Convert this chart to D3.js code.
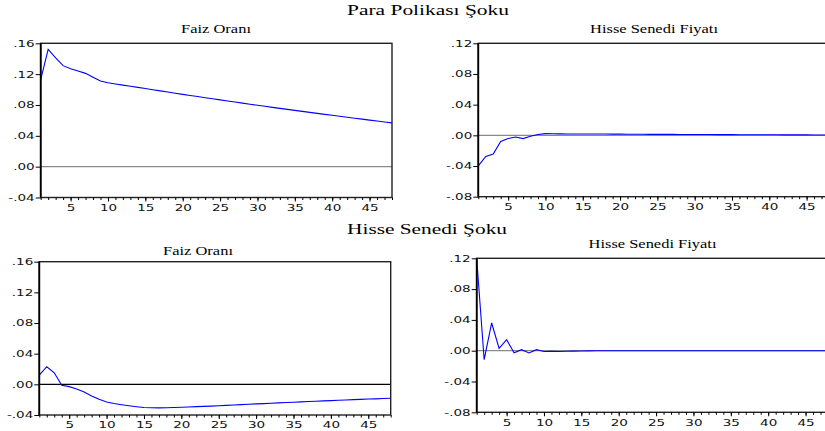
<!DOCTYPE html>
<html><head><meta charset="utf-8">
<script src="https://cdn.jsdelivr.net/npm/d3@7"></script>
<style>body{margin:0;background:#fff} svg{display:block}</style>
</head><body><svg id="c" width="825" height="431"></svg>
<script>
const periods = d3.range(1, 49);
const xTickValues = [5, 10, 15, 20, 25, 30, 35, 40, 45];
const faizTicks = [-0.04, 0, 0.04, 0.08, 0.12, 0.16];
const faizTickLabels = ["-.04", ".00", ".04", ".08", ".12", ".16"];
const hisseTicks = [-0.08, -0.04, 0, 0.04, 0.08, 0.12];
const hisseTickLabels = ["-.08", "-.04", ".00", ".04", ".08", ".12"];
const groupTitles = ["Para Polikası Şoku", "Hisse Senedi Şoku"];
const panelTitles = ["Faiz Oranı", "Hisse Senedi Fiyatı"];

// Para politikası şoku -> Faiz oranı
const faizParaShock = [0.113, 0.152, 0.141, 0.131, 0.127, 0.124, 0.121, 0.116, 0.111, 0.1088,
  0.1073, 0.1058, 0.1043, 0.1028, 0.1013, 0.0998, 0.0983, 0.0968, 0.0953, 0.0938,
  0.0923, 0.0909, 0.0894, 0.0880, 0.0866, 0.0852, 0.0838, 0.0824, 0.0810, 0.0796,
  0.0783, 0.0769, 0.0756, 0.0743, 0.0730, 0.0717, 0.0704, 0.0691, 0.0678, 0.0666,
  0.0653, 0.0641, 0.0628, 0.0616, 0.0604, 0.0592, 0.0580, 0.0568];
// Para politikası şoku -> Hisse senedi fiyatı
const hisseParaShock = [-0.0398, -0.0276, -0.0245, -0.0079, -0.0040, -0.0022, -0.0043, -0.0013, 0.0010, 0.0022,
  0.0021, 0.0019, 0.0018, 0.0018, 0.0018, 0.0018, 0.0017, 0.0017, 0.0016, 0.0016,
  0.0015, 0.0014, 0.0014, 0.0013, 0.0013, 0.0012, 0.0012, 0.0011, 0.0011, 0.0010,
  0.0010, 0.0010, 0.0009, 0.0009, 0.0009, 0.0008, 0.0008, 0.0008, 0.0007, 0.0007,
  0.0007, 0.0006, 0.0006, 0.0006, 0.0006, 0.0005, 0.0005, 0.0005];
// Hisse senedi şoku -> Faiz oranı
const faizHisseShock = [0.0121, 0.0230, 0.0151, -0.0013, -0.0030, -0.0060, -0.0100, -0.0152, -0.0196, -0.0230,
  -0.0250, -0.0266, -0.0280, -0.0292, -0.0302, -0.0306, -0.0307, -0.0306, -0.0303, -0.0298,
  -0.0295, -0.0291, -0.0288, -0.0284, -0.0280, -0.0275, -0.0270, -0.0265, -0.0260, -0.0255,
  -0.0251, -0.0246, -0.0242, -0.0237, -0.0233, -0.0229, -0.0224, -0.0220, -0.0216, -0.0212,
  -0.0208, -0.0204, -0.0200, -0.0196, -0.0192, -0.0189, -0.0185, -0.0182];
// Hisse senedi şoku -> Hisse senedi fiyatı
const hisseHisseShock = [0.1195, -0.0117, 0.0360, 0.0030, 0.0143, -0.0026, 0.0013, -0.0030, 0.0013, -0.0010,
  -0.0008, -0.0010, -0.0008, -0.0005, -0.0003, -0.0002, -0.0001, 0.0000, 0.0000, 0.0000,
  0.0000, 0.0000, 0.0000, 0.0000, 0.0000, 0.0000, 0.0000, 0.0000, 0.0000, 0.0000,
  0.0000, 0.0000, 0.0000, 0.0000, 0.0000, 0.0000, 0.0000, 0.0000, 0.0000, 0.0000,
  0.0000, 0.0000, 0.0000, 0.0000, 0.0000, 0.0000, 0.0000, 0.0000];

const svg = d3.select("#c");
const serif = "'Liberation Serif','Times New Roman',serif";
const sans = "'DejaVu Sans',Verdana,sans-serif";
const SX = 1.5; // horizontal stretch of the original picture's lettering

function stretchedTitle(cx, y, size, width, str) {
  const t = svg.append("text").attr("text-anchor", "middle")
    .attr("font-family", serif).attr("font-size", size).attr("fill", "#000").text(str);
  const w = t.node().getComputedTextLength();
  t.attr("transform", `translate(${cx},${y}) scale(${width / w},1)`);
}

const panels = [
  {x0: 40.7, x1: 392, y0: 43.3, y1: 197.5, ticks: faizTicks, labels: faizTickLabels, values: faizParaShock,
   zero: "#8a8a8a", title: panelTitles[0], tx: 216, ty: 32.7, tw: 70},
  {x0: 478.3, x1: 829, y0: 43.3, y1: 196.7, ticks: hisseTicks, labels: hisseTickLabels, values: hisseParaShock,
   zero: "#8a8a8a", title: panelTitles[1], tx: 654, ty: 32.7, tw: 128},
  {x0: 39.3, x1: 390.7, y0: 261.7, y1: 415, ticks: faizTicks, labels: faizTickLabels, values: faizHisseShock,
   zero: "#000", title: panelTitles[0], tx: 198, ty: 255, tw: 70},
  {x0: 476.7, x1: 828, y0: 258.3, y1: 412.3, ticks: hisseTicks, labels: hisseTickLabels, values: hisseHisseShock,
   zero: "#8a8a8a", title: panelTitles[1], tx: 652.5, ty: 247.7, tw: 128}
];

stretchedTitle(428, 15, 14, 162, groupTitles[0]);
stretchedTitle(427, 234, 14, 160, groupTitles[1]);

panels.forEach(p => {
  const x = d3.scaleLinear().domain([1, 48]).range([p.x0, p.x1]);
  const y = d3.scaleLinear().domain([p.ticks[0], p.ticks[p.ticks.length - 1]]).range([p.y1, p.y0]);
  const g = svg.append("g");

  stretchedTitle(p.tx, p.ty, 11.5, p.tw, p.title);

  // zero line
  g.append("line").attr("x1", x(1)).attr("x2", x(48)).attr("y1", y(0)).attr("y2", y(0))
    .attr("stroke", p.zero).attr("stroke-width", 1.2);

  // series
  const line = d3.line().x((d, i) => x(periods[i])).y(d => y(d));
  g.append("path").datum(p.values).attr("d", line)
    .attr("fill", "none").attr("stroke", "#0000ff").attr("stroke-width", 1.1);

  // frame
  g.append("rect").attr("x", p.x0).attr("y", p.y0).attr("width", p.x1 - p.x0).attr("height", p.y1 - p.y0)
    .attr("fill", "none").attr("stroke", "#222").attr("stroke-width", 1.4);
  g.append("line").attr("x1", p.x0).attr("x2", p.x0).attr("y1", p.y0).attr("y2", p.y1)
    .attr("stroke", "#000").attr("stroke-width", 1.8);

  // y axis
  const ya = g.append("g").attr("transform", `translate(${p.x0},0)`)
    .call(d3.axisLeft(y).tickValues(p.ticks).tickFormat((d, i) => p.labels[i]).tickSize(5).tickPadding(1));
  ya.select(".domain").remove();
  ya.selectAll("line").attr("stroke", "#000").attr("stroke-width", 1);
  ya.selectAll("text").attr("font-family", sans).attr("font-size", 9).attr("fill", "#111")
    .attr("x", -6 / SX).attr("transform", `scale(${SX},1)`);

  // x axis minor ticks
  const xm = g.append("g").attr("transform", `translate(0,${p.y1})`)
    .call(d3.axisBottom(x).tickValues(periods).tickSize(2.5).tickFormat(""));
  xm.select(".domain").remove();
  xm.selectAll("line").attr("stroke", "#000");
  // x axis major ticks + labels
  const xa = g.append("g").attr("transform", `translate(0,${p.y1})`)
    .call(d3.axisBottom(x).tickValues(xTickValues).tickSize(4).tickPadding(3));
  xa.select(".domain").remove();
  xa.selectAll("line").attr("stroke", "#000");
  xa.selectAll("text").attr("font-family", sans).attr("font-size", 9).attr("fill", "#111")
    .attr("transform", `scale(${SX},1)`);
});
</script></body></html>
